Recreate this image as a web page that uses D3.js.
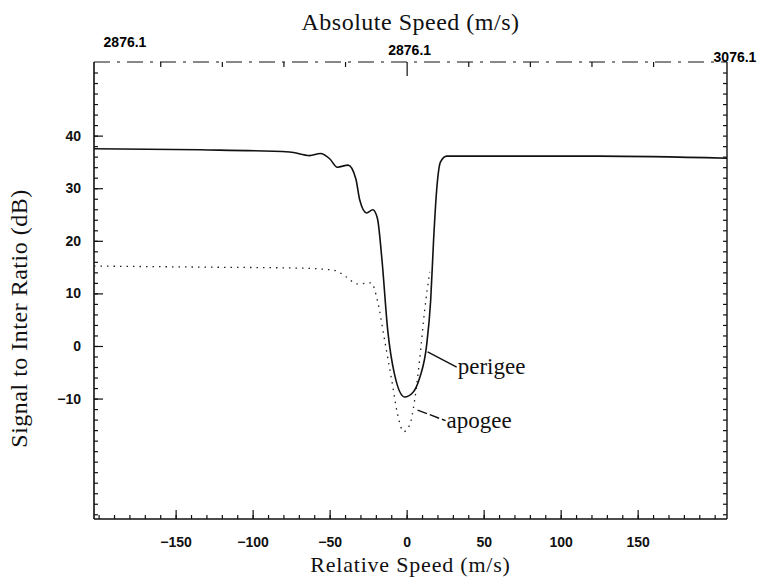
<!DOCTYPE html>
<html>
<head>
<meta charset="utf-8">
<script src="https://cdn.jsdelivr.net/npm/d3@7"></script>
<style>
  body { margin: 0; background: #fff; }
  .tick text { font-family: "Liberation Sans", Arial, sans-serif; font-weight: bold; font-size: 14px; fill: #111; }
  .ttl { font-family: "Liberation Serif", "DejaVu Serif", serif; fill: #111; }
</style>
</head>
<body>
<div id="chart"></div>
<script>
// relative speed (m/s) vs signal-to-interference ratio (dB)
const perigeeSpeed = [-203, -134, -76, -63, -56, -50, -45, -38, -33, -30.5, -26, -22, -19, -16, -12.3, -7.8, -1.3, 3.9, 8.4, 13, 15.6, 17.5, 19.5, 22, 26, 125, 208];
const perigeeSIR   = [37.5, 37.3, 36.9, 36.2, 36.6, 35.6, 34.0, 34.4, 31.8, 27.8, 25.3, 25.9, 24.3, 16.3, 3.0, -5.5, -9.7, -8.9, -6.1, 0.2, 8.7, 20.2, 29.7, 35.0, 36.1, 36.1, 35.7];

const apogeeSpeed = [-203, -134, -69, -47, -40, -32, -23, -19, -14.3, -9.7, -5.8, -2, 2, 5.2, 8.4, 11.7, 15];
const apogeeSIR   = [15.2, 15.0, 14.8, 14.4, 13.3, 11.8, 12.0, 8.7, 1.1, -6.5, -13.1, -16.3, -15.0, -10.3, -2.7, 6.8, 14.1];

const xMajorTicks = [-150, -100, -50, 0, 50, 100, 150];
const yMajorTicks = [-10, 0, 10, 20, 30, 40];
const topTickValues = [-203, 0, 208];
const topTickLabels = ["2876.1", "2876.1", "3076.1"];

// annotation: name, point on curve, text anchor (data units)
const noteNames = ["perigee", "apogee"];
const noteCurve = [[13.6, -1.1], [7.1, -12.2]];
const noteText  = [[32.5, -4.0], [25.3, -14.2]];

const width = 762, height = 579;
const margin = { top: 62, right: 35, bottom: 60, left: 94 };

const svg = d3.select("#chart").append("svg")
  .attr("width", width)
  .attr("height", height);

const x = d3.scaleLinear().domain([-203, 208]).range([margin.left, width - margin.right]);
const y = d3.scaleLinear().domain([-32.9, 54]).range([height - margin.bottom, margin.top]);

const minorX = d3.range(-200, 201, 10);
const minorY = d3.range(-32, 54, 2);
const topTicks = d3.range(-160, 200, 40);

const signed = d => d < 0 ? "\u2212" + Math.abs(d) : d;

// bottom axis: minor then major ticks pointing inward
svg.append("g")
  .attr("transform", `translate(0,${y.range()[0]})`)
  .call(d3.axisBottom(x).tickValues(minorX).tickSize(-4).tickFormat(""))
  .call(g => g.select(".domain").remove());
svg.append("g")
  .attr("transform", `translate(0,${y.range()[0]})`)
  .call(d3.axisBottom(x).tickValues(xMajorTicks).tickSize(-9).tickPadding(18).tickFormat(signed))
  .call(g => g.select(".domain").remove());

// left axis
svg.append("g")
  .attr("transform", `translate(${x.range()[0]},0)`)
  .call(d3.axisLeft(y).tickValues(minorY).tickSize(-4).tickFormat(""))
  .call(g => g.select(".domain").remove());
svg.append("g")
  .attr("transform", `translate(${x.range()[0]},0)`)
  .call(d3.axisLeft(y).tickValues(yMajorTicks).tickSize(-9).tickPadding(13).tickFormat(signed))
  .call(g => g.select(".domain").remove());

// right axis (ticks only)
svg.append("g")
  .attr("transform", `translate(${x.range()[1]},0)`)
  .call(d3.axisRight(y).tickValues(minorY).tickSize(-4).tickFormat(""))
  .call(g => g.select(".domain").remove());

// top axis ticks
svg.append("g")
  .attr("transform", `translate(0,${y.range()[1]})`)
  .call(d3.axisTop(x).tickValues(topTicks).tickSize(-5).tickFormat(""))
  .call(g => g.select(".domain").remove())
  .call(g => g.selectAll(".tick line").filter(d => d === 0).attr("y2", 14));

// frame
const [x0, x1] = x.range(), [y0, y1] = y.range();
const frame = svg.append("g").attr("stroke", "#111").attr("fill", "none");
frame.append("line").attr("x1", x0).attr("x2", x0).attr("y1", y1).attr("y2", y0).attr("stroke-width", 1.6);
frame.append("line").attr("x1", x1).attr("x2", x1).attr("y1", y1).attr("y2", y0).attr("stroke-width", 1.4);
frame.append("line").attr("x1", x0).attr("x2", x1).attr("y1", y0).attr("y2", y0).attr("stroke-width", 1.3);
frame.append("line").attr("x1", x0).attr("x2", x1).attr("y1", y1).attr("y2", y1)
  .attr("stroke-width", 1).attr("stroke-dasharray", "16,7,3,7");

svg.selectAll(".tick line").attr("stroke", "#111").attr("stroke-width", 1.2);

// top labels (absolute speed), placed a bit off their ticks as in the original
const topNudge = [[31, -15], [3, -7], [8, 0]];
svg.append("g").selectAll("text")
  .data(topTickValues)
  .join("text")
  .attr("x", (d, i) => x(d) + topNudge[i][0])
  .attr("y", (d, i) => y1 + topNudge[i][1])
  .attr("text-anchor", "middle")
  .style("font-family", "Liberation Sans, Arial, sans-serif")
  .style("font-weight", "bold")
  .style("font-size", "14px")
  .text((d, i) => topTickLabels[i]);

// curves
const line = d3.line()
  .x(d => x(d[0]))
  .y(d => y(d[1]))
  .curve(d3.curveMonotoneX);

svg.append("path")
  .datum(d3.zip(apogeeSpeed, apogeeSIR))
  .attr("d", line)
  .attr("fill", "none")
  .attr("stroke", "#222")
  .attr("stroke-width", 1.3)
  .attr("stroke-dasharray", "1.5,5");

svg.append("path")
  .datum(d3.zip(perigeeSpeed, perigeeSIR))
  .attr("d", line)
  .attr("fill", "none")
  .attr("stroke", "#111")
  .attr("stroke-width", 1.6);

// annotations
noteNames.forEach((name, i) => {
  svg.append("line")
    .attr("x1", x(noteCurve[i][0])).attr("y1", y(noteCurve[i][1]))
    .attr("x2", x(noteText[i][0])).attr("y2", y(noteText[i][1]))
    .attr("stroke", "#111").attr("stroke-width", 1.4)
    .attr("stroke-dasharray", i === 1 ? "10,3" : null);
  svg.append("text")
    .attr("class", "ttl")
    .attr("x", x(noteText[i][0]) + 1)
    .attr("y", y(noteText[i][1]))
    .attr("dy", "0.3em")
    .style("font-size", "23px")
    .text(name);
});

// axis titles
svg.append("text").attr("class", "ttl")
  .attr("x", (x0 + x1) / 2).attr("y", 30)
  .attr("text-anchor", "middle").style("font-size", "24px").style("letter-spacing", "0.5px")
  .text("Absolute Speed (m/s)");

svg.append("text").attr("class", "ttl")
  .attr("x", (x0 + x1) / 2).attr("y", 572)
  .attr("text-anchor", "middle").style("font-size", "22px").style("letter-spacing", "0.8px")
  .text("Relative Speed (m/s)");

svg.append("text").attr("class", "ttl")
  .attr("transform", `translate(27,${(y0 + y1) / 2 + 28}) rotate(-90)`)
  .attr("text-anchor", "middle").style("font-size", "24px").style("letter-spacing", "0.5px")
  .text("Signal to Inter Ratio (dB)");
</script>
</body>
</html>
